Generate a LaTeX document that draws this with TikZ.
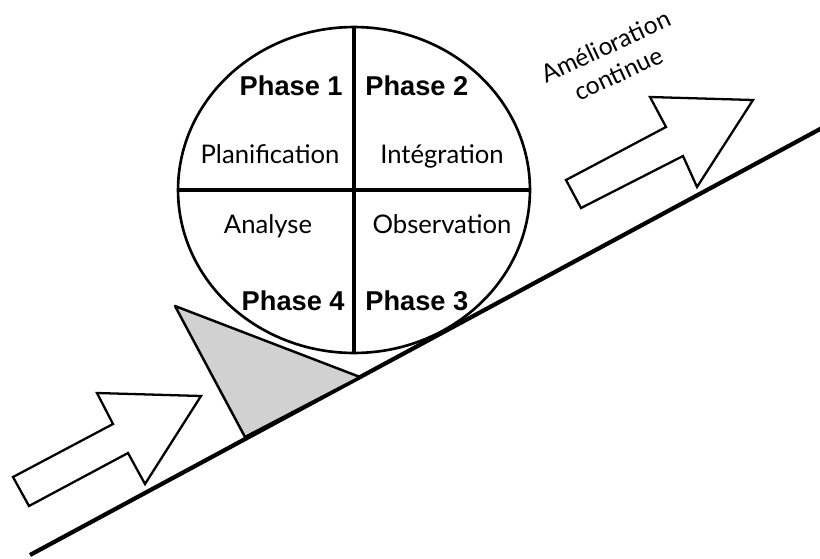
\documentclass[tikz,border=0pt]{standalone}
\usepackage{fontspec}
\setmainfont{Lato}
\newfontfamily\phasefont{Liberation Sans}
\usepackage{tikz}
\usetikzlibrary{positioning,shapes.geometric}

\tikzset{
  phase/.style={font=\phasefont\bfseries\fontsize{15.5}{18}\selectfont, inner sep=0pt},
  activity/.style={font=\fontsize{14.6}{17}\selectfont, inner sep=0pt},
  outline arrow/.style={draw, line width=1.3pt, fill=white, line join=miter},
}

\begin{document}
\begin{tikzpicture}[x=0.02cm, y=-0.02cm]
    \useasboundingbox (0,0) rectangle (820,558);

    % Slope
    \coordinate (slope start) at (30,555);
    \coordinate (slope end) at (822,128);
    \draw[line width=2.4pt] (slope start) -- (slope end);

    % Wedge
    \draw[fill=black!18, line width=1.4pt, line join=round] (175,306) -- (245,437) -- (360,377) -- cycle;

    % Wheel
    \node[ellipse, draw, line width=1.5pt, minimum width=7.04cm, minimum height=6.52cm, inner sep=0pt] (wheel) at (354,190) {};
    \draw[line width=2.4pt] (wheel.north) -- (wheel.south);
    \draw[line width=2.4pt] (wheel.west) -- (wheel.east);

    % Phases
    \node[phase, anchor=base east] (phase1) at (343,95) {Phase 1};
    \node[phase, anchor=base west] (phase2) at (365,95) {Phase 2};
    \node[phase, anchor=base west] (phase3) at (365,310) {Phase 3};
    \node[phase, anchor=base east] (phase4) at (345,310) {Phase 4};
    \node[activity, anchor=base] (plan) at (270,163) {Planification};
    \node[activity, anchor=base] (integ) at (442,163) {Intégration};
    \node[activity, anchor=base] (obs) at (442,233) {Observation};
    \node[activity, anchor=base] (analyse) at (268,233) {Analyse};

    % Arrows
    \draw[outline arrow] (13,477) -- (29,506) -- (128,453) -- (145,484) -- (201,396) -- (97,393) -- (113,424) -- cycle;
    \draw[outline arrow] (566,180) -- (581,208) -- (683,156) -- (697,187) -- (753,100) -- (650,97) -- (666,127) -- cycle;
    \node[activity, rotate=25, align=center, font=\fontsize{14}{17}\selectfont] (improve) at (612,60) {Amélioration\\continue};
\end{tikzpicture}
\end{document}
